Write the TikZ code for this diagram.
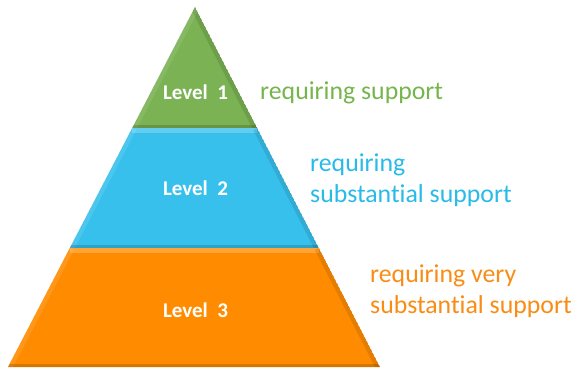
\documentclass[tikz,border=0pt]{standalone}
\usepackage{fontspec}
\setmainfont{Carlito}[RawFeature={-liga}]
\definecolor{lvgreen}{RGB}{122,178,84}
\definecolor{lvblue}{RGB}{56,192,236}
\definecolor{lvorange}{RGB}{255,140,0}
\definecolor{txgreen}{RGB}{118,180,76}
\definecolor{txblue}{RGB}{40,186,232}
\definecolor{txorange}{RGB}{248,140,20}
\tikzset{
  levellabel/.style={font=\fontsize{21}{24}\selectfont\bfseries, text=white, inner sep=0pt, anchor=base},
  desc/.style={font=\fontsize{25.8}{30.5}\selectfont, inner sep=0pt, anchor=base west, align=left},
  bevlight/.style={line width=9pt, white, opacity=0.22},
  bevside/.style={line width=9pt, white, opacity=0.10},
  bevdark/.style={line width=9pt, black, opacity=0.10},
  bevbottom/.style={line width=6pt, black, opacity=0.16},
}
% #1 colour, #2 TL, #3 TR, #4 BR, #5 BL
\newcommand{\bevelpoly}[5]{%
  \begin{scope}
    \clip #2 -- #3 -- #4 -- #5 -- cycle;
    \fill[#1] #2 -- #3 -- #4 -- #5 -- cycle;
    \draw[bevlight] #2 -- #3;
    \draw[bevside] #5 -- #2;
    \draw[bevdark] #3 -- #4;
    \draw[bevbottom] #4 -- #5;
  \end{scope}}
\begin{document}
\begin{tikzpicture}[x=1pt,y=-1pt]
\useasboundingbox (0,0) rectangle (578,370);
\coordinate (apex) at (195,7);
\coordinate (l1) at (132.2,128);
\coordinate (r1) at (257.2,128);
\coordinate (l2) at (69.8,248);
\coordinate (r2) at (318.9,248);
\coordinate (bl) at (8,367);
\coordinate (br) at (380,367);
% level 1 (triangle)
\begin{scope}
  \clip (apex) -- (r1) -- (l1) -- cycle;
  \fill[lvgreen] (apex) -- (r1) -- (l1) -- cycle;
  \draw[bevside] (l1) -- (apex);
  \draw[bevdark] (apex) -- (r1);
  \draw[bevbottom] (r1) -- (l1);
\end{scope}
\bevelpoly{lvblue}{(l1)}{(r1)}{(r2)}{(l2)}
\bevelpoly{lvorange}{(l2)}{(r2)}{(br)}{(bl)}
% labels
\node[levellabel] (lev1) at (195.5,99) {Level~ 1};
\node[levellabel] (lev2) at (195.5,195) {Level~ 2};
\node[levellabel] (lev3) at (195.5,317) {Level~ 3};
\node[desc, text=txgreen] (d1) at (260,99) {requiring support};
\node[desc, text=txblue] (d2) at (310,202) {requiring\\substantial support};
\node[desc, text=txorange] (d3) at (370,313) {requiring very\\substantial support};
\end{tikzpicture}
\end{document}
